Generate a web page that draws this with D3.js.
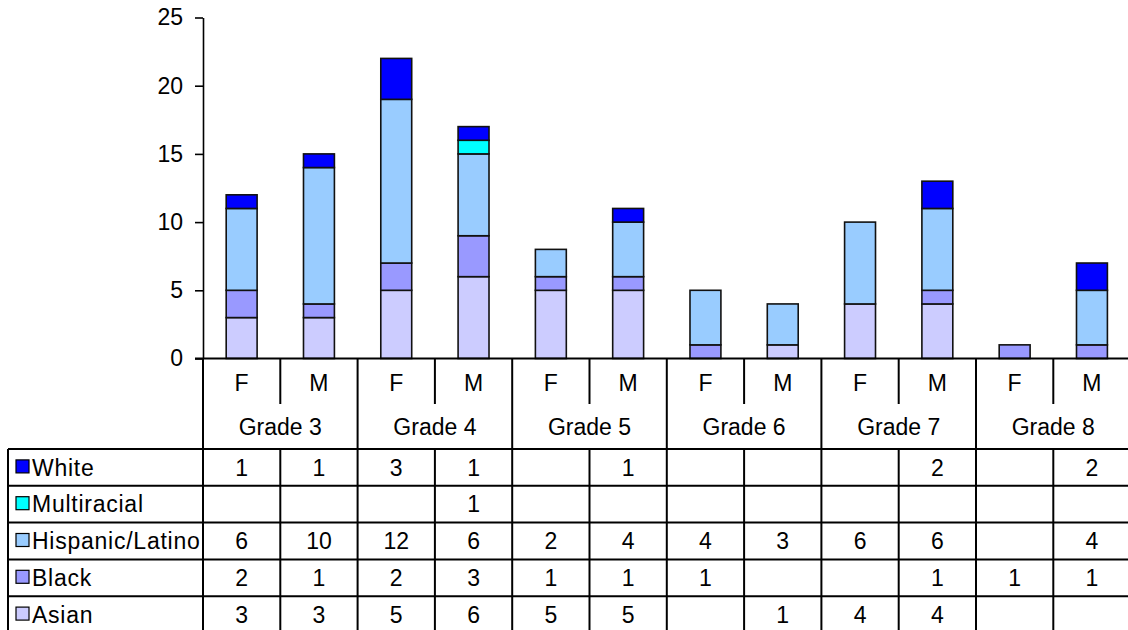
<!DOCTYPE html>
<html>
<head>
<meta charset="utf-8">
<script src="https://cdn.jsdelivr.net/npm/d3@7"></script>
<style>
  html, body { margin: 0; padding: 0; background: #fff; }
  svg { display: block; }
  text { font-family: "Liberation Sans", Arial, sans-serif; fill: #000; }
</style>
</head>
<body>
<svg id="chart" width="1128" height="630"></svg>
<script>
// ---- data ----
const grades = ["Grade 3", "Grade 4", "Grade 5", "Grade 6", "Grade 7", "Grade 8"];
const genders = ["F", "M"];
const seriesNames = ["Asian", "Black", "Hispanic/Latino", "Multiracial", "White"];
const seriesColors = ["#CCCCFF", "#9999FF", "#99CCFF", "#00FFFF", "#0000FF"];
const asian       = [3, 3, 5, 6, 5, 5, null, 1, 4, 4, null, null];
const black       = [2, 1, 2, 3, 1, 1, 1, null, null, 1, 1, 1];
const hispanic    = [6, 10, 12, 6, 2, 4, 4, 3, 6, 6, null, 4];
const multiracial = [null, null, null, 1, null, null, null, null, null, null, null, null];
const white       = [1, 1, 3, 1, null, 1, null, null, null, 2, null, 2];
const yTicks = [0, 5, 10, 15, 20, 25];

const seriesValues = [asian, black, hispanic, multiracial, white];
const columns = [];
grades.forEach(g => genders.forEach(s => columns.push(g + "|" + s)));

const table = columns.map((c, i) => {
  const row = { key: c };
  seriesNames.forEach((n, k) => row[n] = seriesValues[k][i] || 0);
  return row;
});

// ---- layout ----
const svg = d3.select("#chart");
const FS = 23;
const x0 = 203, x1 = 1130.6;
const yTop = 17.5, yBase = 358.5;
const fmRowBottom = 404, gradeRowBottom = 449;
const rowH = 36.8;
const tableLeft = 8;

const x = d3.scaleBand().domain(columns).range([x0, x1]).paddingInner(0.6).paddingOuter(0.3);
const step = x.step();
const y = d3.scaleLinear().domain([0, 25]).range([yBase, yTop]);

// stacked bars
const stack = d3.stack().keys(seriesNames);
const stacked = stack(table);

const gBars = svg.append("g");
stacked.forEach((layer, k) => {
  gBars.selectAll(null)
    .data(layer.filter(d => d[1] - d[0] > 0))
    .join("rect")
    .attr("x", d => x(d.data.key))
    .attr("width", x.bandwidth())
    .attr("y", d => y(d[1]))
    .attr("height", d => y(d[0]) - y(d[1]))
    .attr("fill", seriesColors[k])
    .attr("stroke", "#111")
    .attr("stroke-width", 1.6);
});

// y axis
const yAxis = d3.axisLeft(y).tickValues(yTicks).tickSize(8).tickSizeOuter(0).tickPadding(12);
const gy = svg.append("g").attr("transform", `translate(${x0},0)`).call(yAxis);
gy.select(".domain").attr("stroke", "#000").attr("stroke-width", 1.6);
gy.selectAll(".tick line").attr("stroke", "#000").attr("stroke-width", 1.6);
gy.selectAll(".tick text").attr("font-size", FS).attr("font-family", "Liberation Sans, Arial, sans-serif").attr("fill", "#000");

// ---- data table ----
const gT = svg.append("g").attr("stroke", "#000").attr("stroke-width", 2);
const nRows = seriesNames.length;
const tableBottom = gradeRowBottom + nRows * rowH;

// horizontal lines
gT.append("line").attr("x1", x0 - 8).attr("x2", x1).attr("y1", yBase).attr("y2", yBase);
for (let r = 0; r <= nRows; r++) {
  const yy = gradeRowBottom + r * rowH;
  gT.append("line").attr("x1", tableLeft).attr("x2", x1).attr("y1", yy).attr("y2", yy);
}
// vertical lines
gT.append("line").attr("x1", tableLeft).attr("x2", tableLeft).attr("y1", gradeRowBottom).attr("y2", tableBottom);
columns.forEach((c, i) => {
  const xl = x0 + i * step;
  if (i % 2 === 0) {
    gT.append("line").attr("x1", xl).attr("x2", xl).attr("y1", yBase).attr("y2", tableBottom);
  } else {
    gT.append("line").attr("x1", xl).attr("x2", xl).attr("y1", yBase).attr("y2", fmRowBottom);
    gT.append("line").attr("x1", xl).attr("x2", xl).attr("y1", gradeRowBottom).attr("y2", tableBottom);
  }
});
gT.append("line").attr("x1", x1).attr("x2", x1).attr("y1", yBase).attr("y2", tableBottom);

const gTxt = svg.append("g").attr("font-size", FS).attr("text-anchor", "middle");
// F / M header
columns.forEach((c, i) => {
  gTxt.append("text")
    .attr("x", x(c) + x.bandwidth() / 2)
    .attr("y", 382.5 + FS * 0.36)
    .text(c.split("|")[1]);
});
// grade header
grades.forEach((g, i) => {
  gTxt.append("text")
    .attr("x", x0 + (2 * i + 1) * step)
    .attr("y", 426.5 + FS * 0.36)
    .text(g);
});
// data rows (top row = last series)
const rowOrder = seriesNames.slice().reverse();
rowOrder.forEach((name, r) => {
  const k = seriesNames.indexOf(name);
  const cy = gradeRowBottom + r * rowH + rowH / 2;
  svg.append("rect")
    .attr("x", 16).attr("y", cy - 7.5)
    .attr("width", 13).attr("height", 13)
    .attr("fill", seriesColors[k]).attr("stroke", "#000").attr("stroke-width", 1.2);
  svg.append("text")
    .attr("x", 32).attr("y", cy + FS * 0.36)
    .attr("font-size", FS)
    .attr("letter-spacing", 0.75)
    .text(name);
  seriesValues[k].forEach((v, i) => {
    if (v == null) return;
    gTxt.append("text")
      .attr("x", x(columns[i]) + x.bandwidth() / 2)
      .attr("y", cy + FS * 0.36)
      .text(v);
  });
});
</script>
</body>
</html>
